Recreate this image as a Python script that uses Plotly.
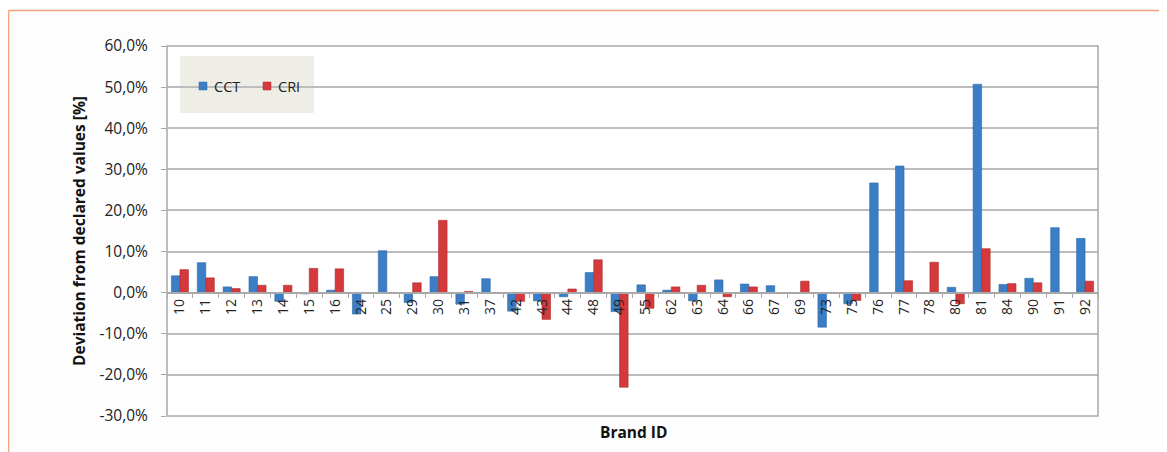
import plotly.graph_objects as go

brand_ids = ["10", "11", "12", "13", "14", "15", "16", "24", "25", "29", "30", "31",
             "37", "42", "43", "44", "48", "49", "55", "62", "63", "64", "66", "67",
             "69", "73", "75", "76", "77", "78", "80", "81", "84", "90", "91", "92"]
cct = [4.1, 7.3, 1.4, 3.9, -2.1, -0.3, 0.6, -5.2, 10.2, -2.4, 3.9, -2.8,
       3.4, -4.5, -2.0, -1.0, 4.9, -4.6, 1.9, 0.6, -2.0, 3.1, 2.1, 1.7,
       -0.1, -8.4, -2.7, 26.7, 30.8, -0.1, 1.3, 50.7, 2.0, 3.5, 15.8, 13.2]
cri = [5.6, 3.6, 1.0, 1.8, 1.8, 5.9, 5.8, 0.0, 0.0, 2.4, 17.6, 0.3,
       0.0, -2.1, -6.5, 0.9, 8.0, -23.0, -3.8, 1.4, 1.8, -1.0, 1.4, 0.0,
       2.8, 0.0, -1.9, 0.0, 2.9, 7.4, -2.7, 10.7, 2.2, 2.4, 0.0, 2.8]
y_ticks = [-30, -20, -10, 0, 10, 20, 30, 40, 50, 60]
y_ticktext = [f"{v:.1f}".replace(".", ",") + "%" for v in y_ticks]
series_names = ["CCT", "CRI"]
series_colors = ["#3b7ec6", "#d4393c"]
series_edges = ["#2f6aa8", "#b02b2e"]

OFF = 8  # page body margin
W, H = 1167 - OFF, 452 - OFF
L, R, T, B = 167, 1098, 46, 416   # plot area in reference pixel coords
ymin, ymax = -30, 60

fig = go.Figure()
for name, vals, col, edge in zip(series_names, [cct, cri], series_colors, series_edges):
    fig.add_trace(go.Bar(x=brand_ids, y=vals, name=name,
                         marker=dict(color=col, line=dict(color=edge, width=0.6))))


def px_x(p):
    return (p - L) / (R - L)


def px_y(p):
    return (B - p) / (B - T)


shapes = [
    # outer orange frame
    dict(type="line", xref="paper", yref="paper", x0=px_x(8.5), x1=px_x(1175), y0=px_y(10.5), y1=px_y(10.5),
         line=dict(color="#f4a27c", width=1.5)),
    dict(type="line", xref="paper", yref="paper", x0=px_x(8.5), x1=px_x(8.5), y0=px_y(10.5), y1=px_y(470),
         line=dict(color="#f4a27c", width=1.5)),
    # legend background
    dict(type="rect", xref="paper", yref="paper", x0=px_x(180), x1=px_x(314), y0=px_y(56), y1=px_y(113),
         fillcolor="#eeeee6", line=dict(width=0), layer="between"),
    # plot box
    dict(type="rect", xref="paper", yref="paper", x0=0, x1=1, y0=0, y1=1,
         line=dict(color="#a8a8a8", width=1.5), layer="above"),
]

# legend swatches + labels
annotations = []
for i, (name, col, edge) in enumerate(zip(series_names, series_colors, series_edges)):
    sx = 199 + i * 64
    shapes.append(dict(type="rect", xref="paper", yref="paper",
                       x0=px_x(sx), x1=px_x(sx + 8), y0=px_y(82), y1=px_y(90),
                       fillcolor=col, line=dict(color=edge, width=0.5), layer="above"))
    annotations.append(dict(text=name, xref="paper", yref="paper", x=px_x(sx + 13), y=px_y(86.5),
                            xanchor="left", yanchor="middle", showarrow=False,
                            font=dict(size=14.5, color="#222222")))

annotations.append(dict(text="<b>Brand ID</b>", xref="paper", yref="paper",
                        x=px_x(633), y=px_y(432), showarrow=False,
                        font=dict(size=15.5, color="#111111"), xanchor="center", yanchor="middle"))

fig.update_layout(
    width=W, height=H,
    margin=dict(l=L - OFF, r=W - (R - OFF), t=T - OFF, b=H - (B - OFF), autoexpand=False),
    paper_bgcolor="#fdfdfd",
    plot_bgcolor="#ffffff",
    barmode="group",
    bargap=0.34,
    bargroupgap=0.0,
    font=dict(family="Open Sans", color="#222222", size=14),
    shapes=shapes,
    annotations=annotations,
    showlegend=False,
    xaxis=dict(
        type="category",
        anchor="free",
        position=(0 - ymin) / (ymax - ymin),
        showline=True, linecolor="#a8a8a8", linewidth=1.5,
        ticks="outside", tickson="boundaries", ticklen=5, tickcolor="#a8a8a8",
        tickangle=-90,
        tickfont=dict(size=14, color="#222222"),
        showgrid=False,
        range=[-0.5, len(brand_ids) - 0.5],
    ),
    yaxis=dict(
        range=[ymin, ymax],
        tickvals=y_ticks,
        ticktext=y_ticktext,
        showgrid=True, gridcolor="#bdbdbd", gridwidth=1.5,
        zeroline=False,
        showline=False,
        ticks="outside", ticklen=5, tickcolor="#a8a8a8",
        ticklabelstandoff=10,
        tickfont=dict(size=15.5, color="#222222"),
        title=dict(text="<b>Deviation from declared values [%]</b>", font=dict(size=15.5, color="#111111"),
                   standoff=10),
    ),
)

fig.write_html("out.html")
